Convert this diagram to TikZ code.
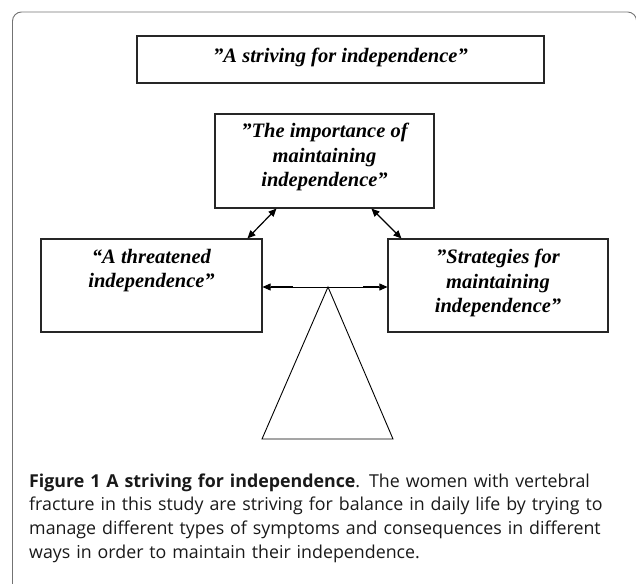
\documentclass[tikz,border=0pt]{standalone}
\usepackage{fontspec}
\setmainfont{Liberation Serif}
\newfontfamily\capfont{Open Sans}
\usetikzlibrary{arrows.meta,calc}
\tikzset{
  boxframe/.style={draw=black!85, line width=1.1pt, rectangle, inner sep=0pt},
  boxtext/.style={align=center, font=\fontsize{20.5}{24.5}\selectfont\bfseries\itshape, inner sep=0pt},
  link/.style={line width=1.2pt, {Triangle[length=8pt,width=7pt]}-{Triangle[length=8pt,width=7pt]}},
  frameline/.style={draw=black!55, line width=0.9pt},
}
\begin{document}
\begin{tikzpicture}[x=1pt,y=-1pt]
\useasboundingbox (0,0) rectangle (636,583);
% outer frame
\draw[frameline, rounded corners=9pt] (12.5,620) -- (12.5,12) -- (636.6,12) -- (636.6,620);
% boxes
\node[boxframe, minimum width=407pt, minimum height=47pt] (top) at (340.5,59.5) {};
\node[boxtext] (toptext) at (340.5,57.5) {”A striving for independence”};
\node[boxframe, minimum width=219pt, minimum height=94pt] (mid) at (324.5,161) {};
\node[boxtext] (midtext) at (324.5,157) {”The importance of\\maintaining\\independence”};
\node[boxframe, minimum width=221pt, minimum height=93pt] (lft) at (151.5,285.5) {};
\node[boxtext] (lfttext) at (151.5,270.5) {“A threatened\\independence”};
\node[boxframe, minimum width=220pt, minimum height=93pt] (rgt) at (498,285.5) {};
\node[boxtext] (rgttext) at (498,283) {”Strategies for\\maintaining\\independence”};
% connectors
\draw[link] ([xshift=62pt]mid.south west) -- ([xshift=207pt]lft.north west);
\draw[link] ([xshift=157pt]mid.south west) -- ([xshift=14pt]rgt.north west);
\draw[link, line width=0.8pt] ([yshift=-1.5pt]lft.east) -- ([yshift=-1.5pt]rgt.west);
\draw[line width=1.6pt] ([yshift=-1.5pt,xshift=8pt]lft.east) -- ([yshift=-1.5pt,xshift=30pt]lft.east);
\draw[line width=1.6pt] ([yshift=-1.5pt,xshift=-8pt]rgt.west) -- ([yshift=-1.5pt,xshift=-24pt]rgt.west);
% fulcrum triangle
\coordinate (apex) at (328,287);
\coordinate (bl) at (262,439);
\coordinate (br) at (393,439);
\draw[line width=0.9pt, line join=miter] (apex) -- (bl) -- (br) -- cycle;
% caption
\node[anchor=base west, text width=620pt, align=left, inner sep=0pt,
      font=\capfont\fontsize{17.8}{23.9}\selectfont, text=black!90] (caption) at (29,487)
  {\textbf{Figure 1 A striving for independence}. The women with vertebral\\
   fracture in this study are striving for balance in daily life by trying to\\
   manage different types of symptoms and consequences in different\\
   ways in order to maintain their independence.};
\end{tikzpicture}
\end{document}
